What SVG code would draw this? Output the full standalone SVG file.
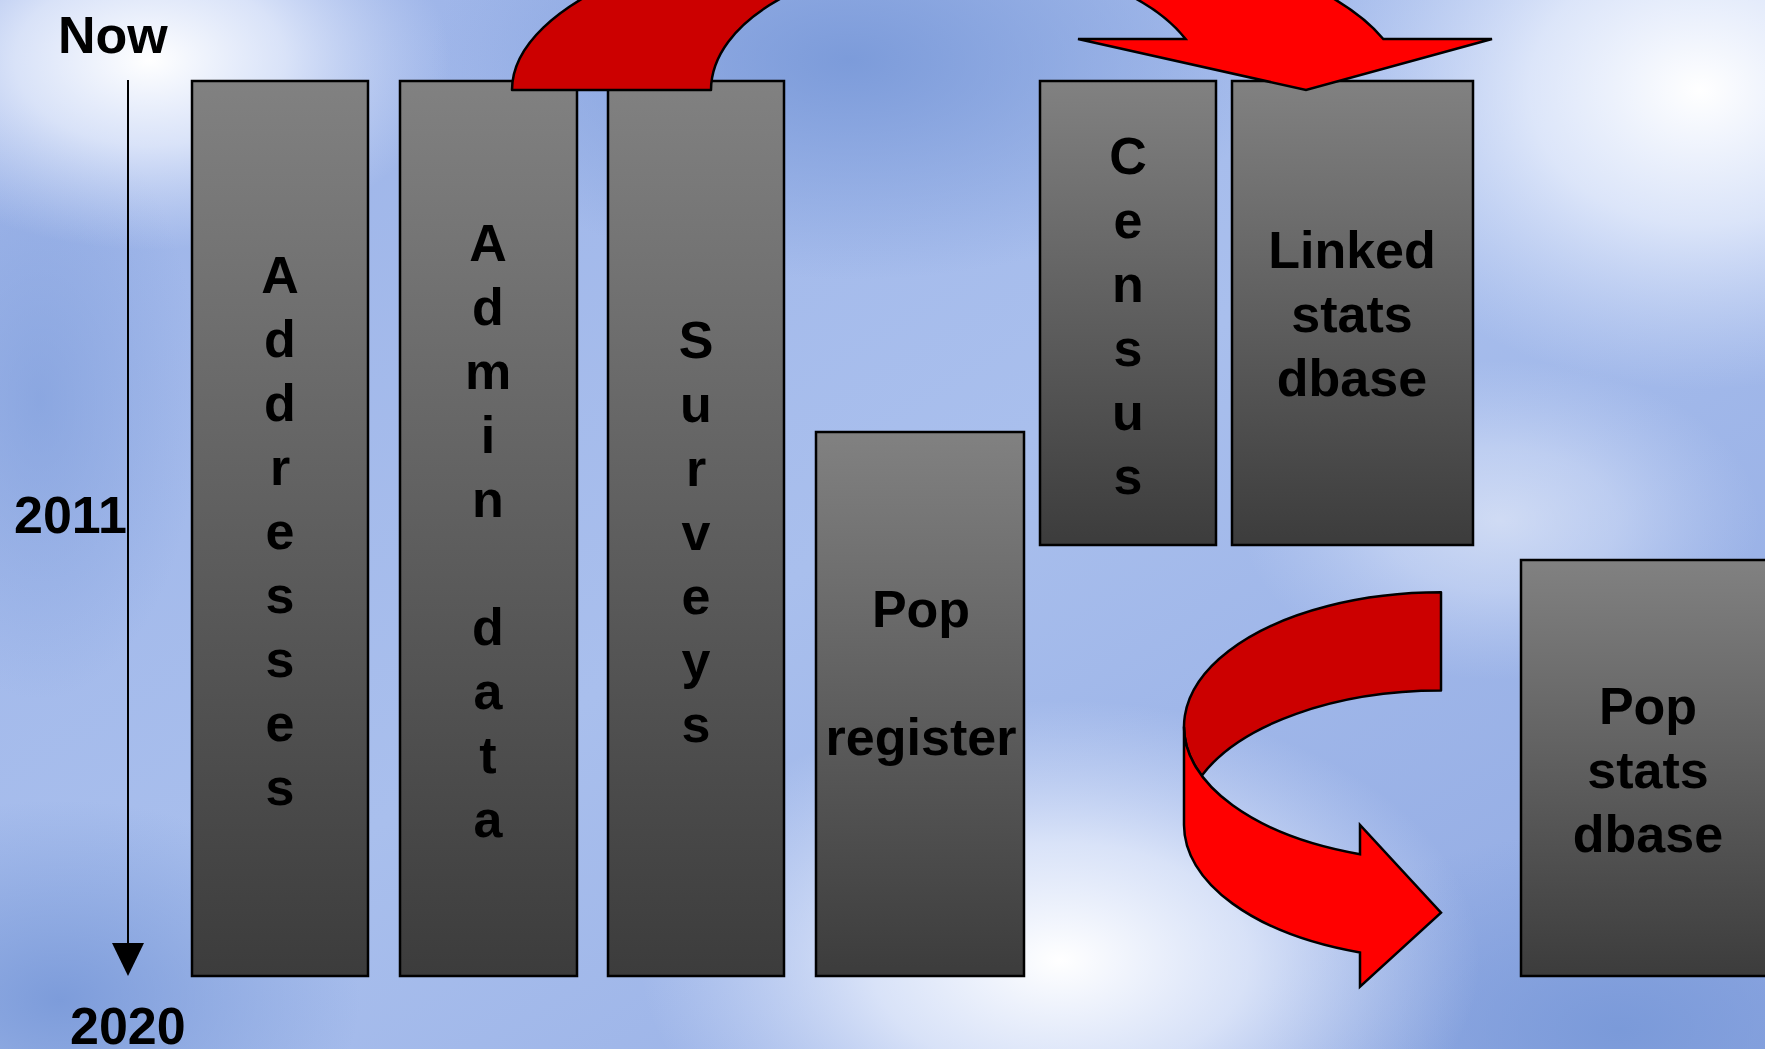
<svg xmlns="http://www.w3.org/2000/svg" width="1765" height="1049" viewBox="0 0 1765 1049">
<defs>
<linearGradient id="boxg" x1="0" y1="0" x2="0" y2="1">
<stop offset="0" stop-color="#818181"/>
<stop offset="1" stop-color="#3c3c3c"/>
</linearGradient>
<linearGradient id="bgbase" x1="0" y1="0" x2="1" y2="1">
<stop offset="0" stop-color="#9cb3e8"/>
<stop offset="0.5" stop-color="#a9bfed"/>
<stop offset="1" stop-color="#8fa8e2"/>
</linearGradient>
<radialGradient id="glow" cx="0.5" cy="0.5" r="0.5">
<stop offset="0" stop-color="#ffffff" stop-opacity="1"/>
<stop offset="0.45" stop-color="#f2f6ff" stop-opacity="0.7"/>
<stop offset="1" stop-color="#dde6fb" stop-opacity="0"/>
</radialGradient>
<radialGradient id="dark" cx="0.5" cy="0.5" r="0.5">
<stop offset="0" stop-color="#7898d8" stop-opacity="0.9"/>
<stop offset="1" stop-color="#7898d8" stop-opacity="0"/>
</radialGradient>
<style>
.box{fill:url(#boxg);stroke:#000;stroke-width:2.5}
.lbl{font-family:"Liberation Sans",Arial,Helvetica,sans-serif;font-weight:bold;font-size:52px;fill:#000}
.mid{text-anchor:middle}
.back{fill:#cc0000;stroke:#000;stroke-width:2.5;stroke-linejoin:round}
.front{fill:#ff0000;stroke:#000;stroke-width:2.5;stroke-linejoin:miter}
</style>
</defs>
<g id="background">
<rect x="0" y="0" width="1765" height="1049" fill="url(#bgbase)"/>
<ellipse cx="850" cy="60" rx="420" ry="220" fill="url(#dark)"/>
<ellipse cx="60" cy="1000" rx="300" ry="200" fill="url(#dark)"/>
<ellipse cx="1620" cy="1030" rx="360" ry="200" fill="url(#dark)"/>
<ellipse cx="40" cy="400" rx="160" ry="300" fill="url(#dark)" opacity="0.6"/>
<ellipse cx="150" cy="60" rx="300" ry="190" fill="url(#glow)"/>
<ellipse cx="1700" cy="90" rx="380" ry="300" fill="url(#glow)"/>
<ellipse cx="1060" cy="960" rx="420" ry="260" fill="url(#glow)"/>
<ellipse cx="1500" cy="520" rx="260" ry="160" fill="url(#glow)" opacity="0.5"/>
</g>
<g id="timeline">
<line x1="128" y1="80" x2="128" y2="946" stroke="#000" stroke-width="2"/>
<polygon points="112,943 144,943 128,976" fill="#000"/>
<text class="lbl" x="58" y="53">Now</text>
<text class="lbl" x="14" y="533">2011</text>
<text class="lbl" x="70" y="1044">2020</text>
</g>
<g id="addresses">
<rect class="box" x="192" y="81" width="176" height="895"/>
<text class="lbl mid" x="280" y="293"><tspan x="280">A</tspan><tspan x="280" dy="64">d</tspan><tspan x="280" dy="64">d</tspan><tspan x="280" dy="64">r</tspan><tspan x="280" dy="64">e</tspan><tspan x="280" dy="64">s</tspan><tspan x="280" dy="64">s</tspan><tspan x="280" dy="64">e</tspan><tspan x="280" dy="64">s</tspan></text>
</g>
<g id="admin-data">
<rect class="box" x="400" y="81" width="177" height="895"/>
<text class="lbl mid" x="488" y="261"><tspan x="488">A</tspan><tspan x="488" dy="64">d</tspan><tspan x="488" dy="64">m</tspan><tspan x="488" dy="64">i</tspan><tspan x="488" dy="64">n</tspan><tspan x="488" dy="128">d</tspan><tspan x="488" dy="64">a</tspan><tspan x="488" dy="64">t</tspan><tspan x="488" dy="64">a</tspan></text>
</g>
<g id="surveys">
<rect class="box" x="608" y="81" width="176" height="895"/>
<text class="lbl mid" x="696" y="358"><tspan x="696">S</tspan><tspan x="696" dy="64">u</tspan><tspan x="696" dy="64">r</tspan><tspan x="696" dy="64">v</tspan><tspan x="696" dy="64">e</tspan><tspan x="696" dy="64">y</tspan><tspan x="696" dy="64">s</tspan></text>
</g>
<g id="pop-register">
<rect class="box" x="816" y="432" width="208" height="544"/>
<text class="lbl mid" x="921" y="627"><tspan x="921">Pop</tspan><tspan x="921" dy="128">register</tspan></text>
</g>
<g id="census">
<rect class="box" x="1040" y="81" width="176" height="464"/>
<text class="lbl mid" x="1128" y="174"><tspan x="1128">C</tspan><tspan x="1128" dy="64">e</tspan><tspan x="1128" dy="64">n</tspan><tspan x="1128" dy="64">s</tspan><tspan x="1128" dy="64">u</tspan><tspan x="1128" dy="64">s</tspan></text>
</g>
<g id="linked-stats-dbase">
<rect class="box" x="1232" y="81" width="241" height="464"/>
<text class="lbl mid" x="1352" y="268"><tspan x="1352">Linked</tspan><tspan x="1352" dy="64">stats</tspan><tspan x="1352" dy="64">dbase</tspan></text>
</g>
<g id="pop-stats-dbase">
<rect class="box" x="1521" y="560" width="260" height="416"/>
<text class="lbl mid" x="1648" y="724"><tspan x="1648">Pop</tspan><tspan x="1648" dy="64">stats</tspan><tspan x="1648" dy="64">dbase</tspan></text>
</g>
<g id="connectors">
<path class="back" d="M512,90 A446,169.5 0 0 1 958,-79.5 L958,-41.4 A247,131.4 0 0 0 711,90 Z"/>
<path class="front" d="M958,-79.5 A446,169.5 0 0 1 1383.3,39 L1492,39 L1306,90 L1078,39 L1185.6,39 A247,131.4 0 0 0 958,-41.4 Z"/>
<path class="back" d="M1441,592.3 A257,134.4 0 0 0 1201.7,775.7 A257,134.4 0 0 1 1441,690.6 Z"/>
<path class="front" d="M1184,726.7 L1184,825 A257,134.4 0 0 0 1360,952.5 L1360,986.7 L1441,912.7 L1360,825 L1360,854.2 A257,134.4 0 0 1 1184,726.7 Z"/>
</g>
</svg>
